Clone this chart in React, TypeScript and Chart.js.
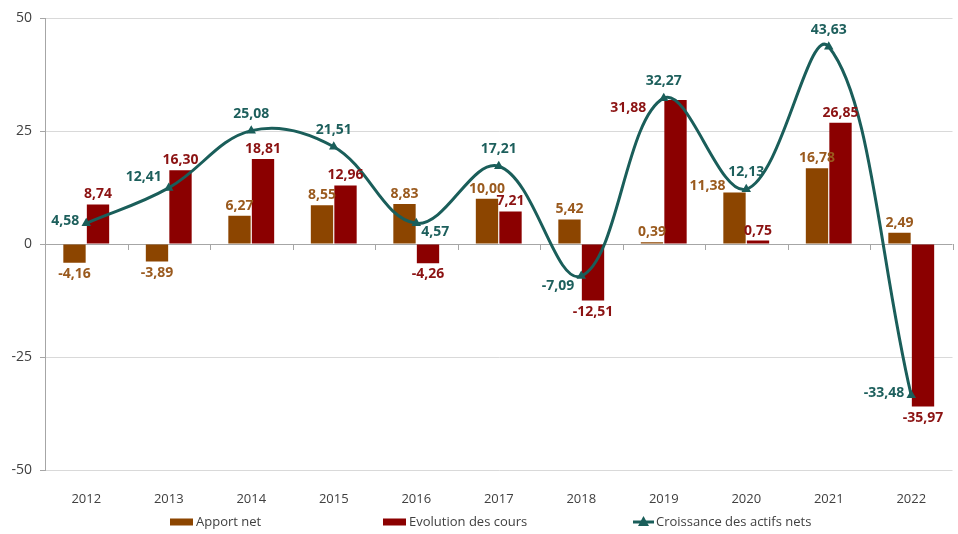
import React, { useEffect, useRef } from 'react';
import { Chart, registerables } from 'chart.js';

Chart.register(...registerables);

const years = ['2012', '2013', '2014', '2015', '2016', '2017', '2018', '2019', '2020', '2021', '2022'];
const apportNet = [-4.16, -3.89, 6.27, 8.55, 8.83, 10.0, 5.42, 0.39, 11.38, 16.78, 2.49];
const evolutionCours = [8.74, 16.3, 18.81, 12.96, -4.26, 7.21, -12.51, 31.88, 0.75, 26.85, -35.97];
const croissanceActifs = [4.58, 12.41, 25.08, 21.51, 4.57, 17.21, -7.09, 32.27, 12.13, 43.63, -33.48];
const yTickValues = [-50, -25, 0, 25, 50];
const seriesNames = ['Apport net', 'Evolution des cours', 'Croissance des actifs nets'];

// label placement hints (not coordinates)
const apportLabelPos = ['end', 'end', 'end', 'end', 'end', 'end', 'end', 'end', 'endLeft', 'end', 'end'];
const evolLabelPos = ['end', 'end', 'end', 'end', 'end', 'end', 'end', 'left', 'end', 'end', 'end'];
const lineLabelPos = ['left', 'leftUp', 'above', 'above', 'right', 'above', 'leftDown', 'above', 'above', 'above', 'left'];

const COL_APPORT = '#8C4500';
const COL_EVOL = '#8B0000';
const COL_LINE = '#1A5E5A';
const LBL_APPORT = '#9A5A1E';
const LBL_EVOL = '#8B1212';
const LBL_LINE = '#1D5F5C';
const FONT = '"Open Sans", "Noto Sans", sans-serif';

const fmt = (v: number) => v.toFixed(2).replace('.', ',');

const zeroLinePlugin = {
  id: 'zeroTicks',
  beforeDatasetsDraw(chart: any) {
    const x = chart.scales.x;
    const y = chart.scales.y;
    const y0 = y.getPixelForValue(0);
    const n = years.length;
    const ctx = chart.ctx;
    ctx.save();
    ctx.strokeStyle = '#a6a6a6';
    ctx.lineWidth = 1;
    for (let i = 1; i <= n; i++) {
      const px = Math.round(x.left + (i * (x.right - x.left)) / n) + 0.5;
      ctx.beginPath();
      ctx.moveTo(px, y0);
      ctx.lineTo(px, y0 + 6);
      ctx.stroke();
    }
    ctx.restore();
  },
};

const labelPlugin = {
  id: 'dataLabels',
  afterDatasetsDraw(chart: any) {
    const ctx = chart.ctx;
    ctx.save();
    ctx.font = `bold 14px ${FONT}`;
    ctx.textBaseline = 'middle';
    chart.data.datasets.forEach((ds: any, di: number) => {
      const meta = chart.getDatasetMeta(di);
      meta.data.forEach((el: any, i: number) => {
        const v = ds.data[i] as number;
        const txt = fmt(v);
        let x = el.x;
        let y = el.y;
        let align: CanvasTextAlign = 'center';
        if (ds.type === 'line') {
          ctx.fillStyle = LBL_LINE;
          const p = lineLabelPos[i];
          if (p === 'above') { y = el.y - 17; }
          else if (p === 'left') { x = el.x - 7; align = 'right'; y = el.y - 2; }
          else if (p === 'leftUp') { x = el.x - 7; align = 'right'; y = el.y - 11; }
          else if (p === 'leftDown') { x = el.x - 7; align = 'right'; y = el.y + 10; }
          else if (p === 'right') { x = el.x + 5; align = 'left'; y = el.y + 9; }
        } else {
          const isApport = di === 0;
          ctx.fillStyle = isApport ? LBL_APPORT : LBL_EVOL;
          const p = isApport ? apportLabelPos[i] : evolLabelPos[i];
          if (p === 'end') {
            y = v >= 0 ? el.y - 10 : el.y + 11;
          } else if (p === 'endLeft') {
            x = el.x - 27;
            y = el.y - 7;
          } else if (p === 'left') {
            x = el.x - el.width / 2 - 18;
            align = 'right';
            y = el.y + 8;
          }
        }
        ctx.textAlign = align;
        ctx.fillText(txt, x, y);
      });
    });
    ctx.restore();
  },
};

const legendPlugin = {
  id: 'customLegend',
  afterDraw(chart: any) {
    const ctx = chart.ctx;
    const w = chart.width;
    const yc = chart.height - 12;
    const xs = [w * (170 / 958), w * (383 / 958), w * (633 / 958)];
    ctx.save();
    ctx.font = `13px ${FONT}`;
    ctx.textBaseline = 'middle';
    ctx.textAlign = 'left';
    [COL_APPORT, COL_EVOL].forEach((c, k) => {
      ctx.fillStyle = c;
      ctx.fillRect(xs[k], yc - 3.5, 23, 7);
      ctx.fillStyle = '#404040';
      ctx.fillText(seriesNames[k], xs[k] + 26, yc);
    });
    const lx = xs[2];
    ctx.strokeStyle = COL_LINE;
    ctx.lineWidth = 3;
    ctx.beginPath();
    ctx.moveTo(lx, yc);
    ctx.lineTo(lx + 21, yc);
    ctx.stroke();
    ctx.fillStyle = COL_LINE;
    ctx.beginPath();
    ctx.moveTo(lx + 10.5, yc - 6);
    ctx.lineTo(lx + 16, yc + 4);
    ctx.lineTo(lx + 5, yc + 4);
    ctx.closePath();
    ctx.fill();
    ctx.fillStyle = '#404040';
    ctx.fillText(seriesNames[2], lx + 23, yc);
    ctx.restore();
  },
};

export default function App() {
  const ref = useRef<HTMLCanvasElement | null>(null);
  useEffect(() => {
    if (!ref.current) return;
    const chart = new Chart(ref.current, {
      type: 'bar',
      data: {
        labels: years,
        datasets: [
          {
            type: 'bar',
            label: seriesNames[0],
            data: apportNet,
            backgroundColor: COL_APPORT,
            barPercentage: 0.95,
            categoryPercentage: 0.57,
            order: 2,
          },
          {
            type: 'bar',
            label: seriesNames[1],
            data: evolutionCours,
            backgroundColor: COL_EVOL,
            barPercentage: 0.95,
            categoryPercentage: 0.57,
            order: 2,
          },
          {
            type: 'line',
            label: seriesNames[2],
            data: croissanceActifs,
            borderColor: COL_LINE,
            backgroundColor: COL_LINE,
            borderWidth: 3,
            tension: 0.38,
            pointStyle: 'triangle',
            pointRadius: 5.5,
            pointBackgroundColor: COL_LINE,
            pointBorderColor: COL_LINE,
            pointBorderWidth: 0,
            fill: false,
            order: 0,
          } as any,
        ],
      },
      options: {
        animation: false,
        responsive: true,
        maintainAspectRatio: false,
        layout: { padding: { top: 18, right: 3, bottom: 0, left: 0 } },
        plugins: {
          legend: { display: false },
          tooltip: { enabled: false },
        },
        scales: {
          x: {
            grid: { display: false },
            border: { display: false },
            ticks: {
              padding: 13,
              color: '#404040',
              font: { size: 13, family: FONT },
            },
            afterFit(scale: any) {
              scale.height = 64;
            },
          },
          y: {
            min: -50,
            max: 50,
            afterBuildTicks(scale: any) {
              scale.ticks = yTickValues.map((v) => ({ value: v }));
            },
            grid: {
              color: (c: any) => (c.tick && c.tick.value === 0 ? '#a6a6a6' : '#d9d9d9'),
              tickColor: '#a6a6a6',
              tickLength: 5,
            },
            border: { display: true, color: '#a6a6a6' },
            ticks: {
              padding: 8,
              color: '#404040',
              font: { size: 14, family: FONT },
            },
            afterFit(scale: any) {
              scale.width = 45;
            },
          },
        },
      },
      plugins: [zeroLinePlugin, labelPlugin, legendPlugin],
    });
    return () => chart.destroy();
  }, []);
  return (
    <div style={{ position: 'absolute', left: 0, top: 0, width: 958, height: 534, background: '#fff' }}>
      <canvas ref={ref} />
    </div>
  );
}
